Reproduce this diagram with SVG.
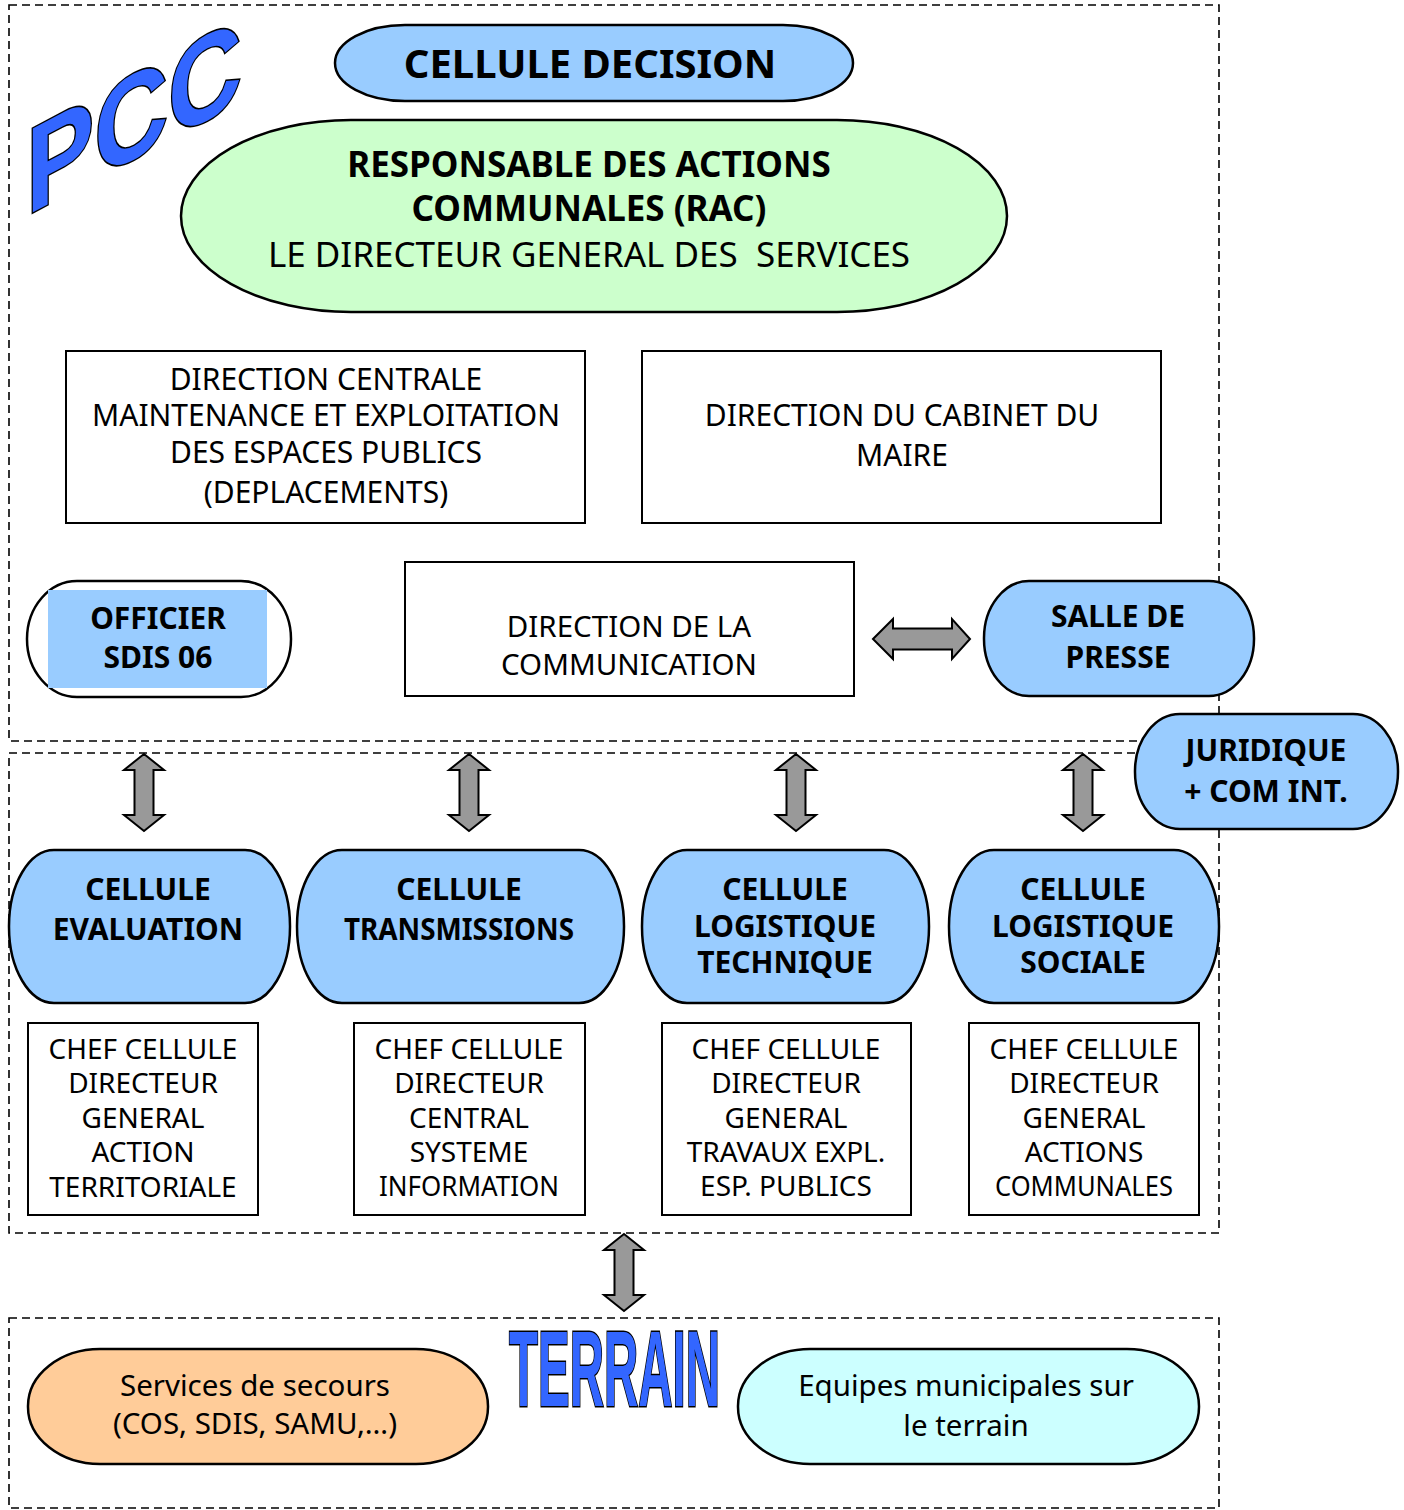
<svg xmlns="http://www.w3.org/2000/svg" width="1404" height="1510" viewBox="0 0 1404 1510">
<style>
.frame{fill:none;stroke:#000;stroke-width:1.6;stroke-dasharray:8 5}
.box{fill:#fff;stroke:#000;stroke-width:2}
.blue{fill:#99ccff;stroke:#000;stroke-width:2.5}
.t{font-family:"Noto Sans","DejaVu Sans",sans-serif;fill:#000;text-anchor:middle}
.b{font-weight:bold}
.arr{fill:#999;stroke:#000;stroke-width:2;stroke-linejoin:miter}
.logo{font-family:"Liberation Sans",Arial,sans-serif;font-weight:bold;fill:#3366ff;stroke:#000;stroke-width:3;paint-order:stroke}
</style>
<defs>
<path id="varr" d="M0,0 L20,16 L9.5,16 L9.5,61 L20,61 L0,77 L-20,61 L-9.5,61 L-9.5,16 L-20,16 Z"/>
</defs>
<rect x="0" y="0" width="1404" height="1510" fill="#fff"/>

<g id="frames">
<rect class="frame" x="9" y="5" width="1210" height="736"/>
<rect class="frame" x="9" y="753" width="1210" height="480"/>
<rect class="frame" x="9" y="1318" width="1210" height="190"/>
</g>

<g id="pcc">
<text class="logo" transform="translate(26,216) skewY(-28)" x="0" y="0" font-size="122" textLength="216" lengthAdjust="spacingAndGlyphs">PCC</text>
</g>

<g id="cellule-decision">
<rect class="blue" x="335" y="25" width="518" height="76" rx="70" ry="38"/>
<text class="t b" x="590" y="78" font-size="40">CELLULE DECISION</text>
</g>

<g id="rac">
<rect x="181" y="120" width="826" height="192" rx="170" ry="96" fill="#ccffcc" stroke="#000" stroke-width="2.5"/>
<text class="t b" x="589" y="177" font-size="35">RESPONSABLE DES ACTIONS</text>
<text class="t b" x="589" y="221" font-size="35">COMMUNALES (RAC)</text>
<text class="t" x="589" y="267" font-size="35" xml:space="preserve">LE DIRECTEUR GENERAL DES  SERVICES</text>
</g>

<g id="direction-centrale">
<rect class="box" x="66" y="351" width="519" height="172"/>
<text class="t" x="326" y="390" font-size="30">DIRECTION CENTRALE</text>
<text class="t" x="326" y="426" font-size="30">MAINTENANCE ET EXPLOITATION</text>
<text class="t" x="326" y="463" font-size="30">DES ESPACES PUBLICS</text>
<text class="t" x="326" y="503" font-size="30">(DEPLACEMENTS)</text>
</g>

<g id="direction-cabinet">
<rect class="box" x="642" y="351" width="519" height="172"/>
<text class="t" x="902" y="426" font-size="30">DIRECTION DU CABINET DU</text>
<text class="t" x="902" y="466" font-size="30">MAIRE</text>
</g>

<g id="officier-sdis">
<rect x="27" y="581" width="264" height="116" rx="50" ry="58" fill="#fff" stroke="#000" stroke-width="2.5"/>
<rect x="48" y="590" width="219" height="98" fill="#99ccff"/>
<text class="t b" x="158" y="629" font-size="30">OFFICIER</text>
<text class="t b" x="158" y="668" font-size="30">SDIS 06</text>
</g>

<g id="direction-communication">
<rect class="box" x="405" y="562" width="449" height="134"/>
<text class="t" x="629" y="637" font-size="29.5">DIRECTION DE LA</text>
<text class="t" x="629" y="675" font-size="29.5">COMMUNICATION</text>
</g>

<g id="salle-presse">
<rect class="blue" x="984" y="581" width="270" height="115" rx="45" ry="57"/>
<text class="t b" x="1118" y="627" font-size="30">SALLE DE</text>
<text class="t b" x="1118" y="668" font-size="30">PRESSE</text>
</g>

<g id="juridique">
<rect class="blue" x="1135" y="714" width="263" height="115" rx="45" ry="57"/>
<text class="t b" x="1266" y="761" font-size="30">JURIDIQUE</text>
<text class="t b" x="1266" y="802" font-size="30">+ COM INT.</text>
</g>

<g id="cellule-evaluation">
<rect class="blue" x="9" y="850" width="281" height="153" rx="45" ry="76"/>
<text class="t b" x="148" y="900" font-size="30">CELLULE</text>
<text class="t b" x="148" y="940" font-size="30">EVALUATION</text>
</g>
<g id="cellule-transmissions">
<rect class="blue" x="297" y="850" width="327" height="153" rx="45" ry="76"/>
<text class="t b" x="459" y="900" font-size="30">CELLULE</text>
<text class="t b" x="459" y="940" font-size="30" textLength="230" lengthAdjust="spacingAndGlyphs">TRANSMISSIONS</text>
</g>
<g id="cellule-logistique-technique">
<rect class="blue" x="642" y="850" width="287" height="153" rx="45" ry="76"/>
<text class="t b" x="785" y="900" font-size="30">CELLULE</text>
<text class="t b" x="785" y="937" font-size="30">LOGISTIQUE</text>
<text class="t b" x="785" y="973" font-size="30">TECHNIQUE</text>
</g>
<g id="cellule-logistique-sociale">
<rect class="blue" x="949" y="850" width="270" height="153" rx="45" ry="76"/>
<text class="t b" x="1083" y="900" font-size="30">CELLULE</text>
<text class="t b" x="1083" y="937" font-size="30">LOGISTIQUE</text>
<text class="t b" x="1083" y="973" font-size="30">SOCIALE</text>
</g>

<g id="chef-evaluation">
<rect class="box" x="28" y="1023" width="230" height="192"/>
<text class="t" x="143" y="1059" font-size="28">CHEF CELLULE</text>
<text class="t" x="143" y="1093" font-size="28">DIRECTEUR</text>
<text class="t" x="143" y="1128" font-size="28">GENERAL</text>
<text class="t" x="143" y="1162" font-size="28">ACTION</text>
<text class="t" x="143" y="1197" font-size="28">TERRITORIALE</text>
</g>
<g id="chef-transmissions">
<rect class="box" x="354" y="1023" width="231" height="192"/>
<text class="t" x="469" y="1059" font-size="28">CHEF CELLULE</text>
<text class="t" x="469" y="1093" font-size="28">DIRECTEUR</text>
<text class="t" x="469" y="1128" font-size="28">CENTRAL</text>
<text class="t" x="469" y="1162" font-size="28">SYSTEME</text>
<text class="t" x="469" y="1196" font-size="28" textLength="180" lengthAdjust="spacingAndGlyphs">INFORMATION</text>
</g>
<g id="chef-logistique-technique">
<rect class="box" x="662" y="1023" width="249" height="192"/>
<text class="t" x="786" y="1059" font-size="28">CHEF CELLULE</text>
<text class="t" x="786" y="1093" font-size="28">DIRECTEUR</text>
<text class="t" x="786" y="1128" font-size="28">GENERAL</text>
<text class="t" x="786" y="1162" font-size="28">TRAVAUX EXPL.</text>
<text class="t" x="786" y="1196" font-size="28">ESP. PUBLICS</text>
</g>
<g id="chef-logistique-sociale">
<rect class="box" x="969" y="1023" width="230" height="192"/>
<text class="t" x="1084" y="1059" font-size="28">CHEF CELLULE</text>
<text class="t" x="1084" y="1093" font-size="28">DIRECTEUR</text>
<text class="t" x="1084" y="1128" font-size="28">GENERAL</text>
<text class="t" x="1084" y="1162" font-size="28">ACTIONS</text>
<text class="t" x="1084" y="1196" font-size="28" textLength="178" lengthAdjust="spacingAndGlyphs">COMMUNALES</text>
</g>

<g id="terrain">
<text class="logo" x="509" y="1406" font-size="107" textLength="211" lengthAdjust="spacingAndGlyphs">TERRAIN</text>
</g>

<g id="services-secours">
<rect x="28" y="1349" width="460" height="115" rx="72" ry="57" fill="#ffcc99" stroke="#000" stroke-width="2.5"/>
<text class="t" x="255" y="1396" font-size="29.5">Services de secours</text>
<text class="t" x="255" y="1434" font-size="29.5">(COS, SDIS, SAMU,…)</text>
</g>

<g id="equipes-municipales">
<rect x="738" y="1349" width="461" height="115" rx="72" ry="57" fill="#ccffff" stroke="#000" stroke-width="2.5"/>
<text class="t" x="966" y="1396" font-size="29.5">Equipes municipales sur</text>
<text class="t" x="966" y="1436" font-size="29.5">le terrain</text>
</g>

<g id="connectors">
<path class="arr" d="M873,639 L893,619 L893,628.5 L952,628.5 L952,619 L970,639 L952,659 L952,649.5 L893,649.5 L893,659 Z"/>
<use href="#varr" class="arr" x="144" y="754"/>
<use href="#varr" class="arr" x="469" y="754"/>
<use href="#varr" class="arr" x="796" y="754"/>
<use href="#varr" class="arr" x="1083" y="754"/>
<use href="#varr" class="arr" x="624" y="1234"/>
</g>
</svg>
